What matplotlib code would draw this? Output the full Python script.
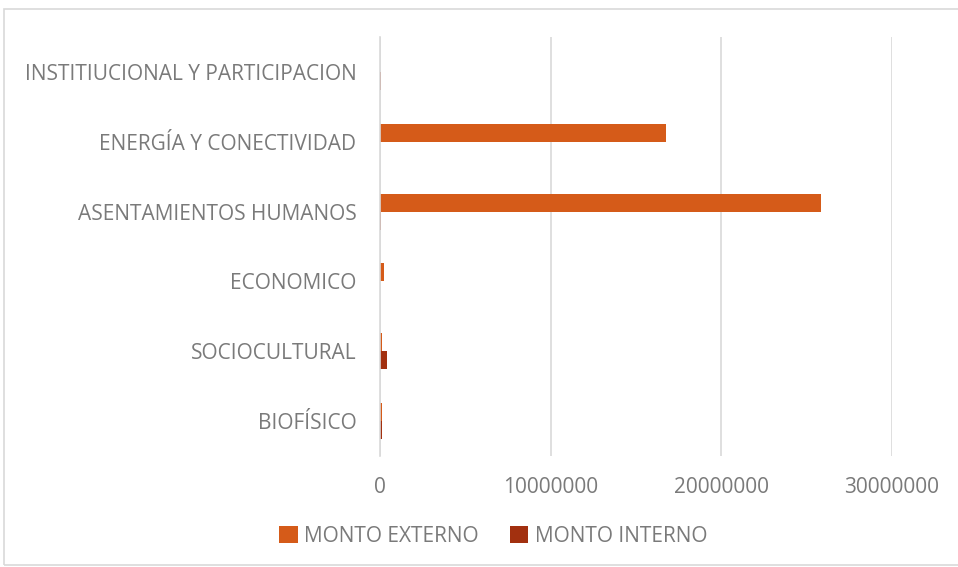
import matplotlib
matplotlib.use("Agg")
import matplotlib.pyplot as plt
from matplotlib.patches import Rectangle
import numpy as np

categories = ["BIOFÍSICO", "SOCIOCULTURAL", "ECONOMICO", "ASENTAMIENTOS HUMANOS",
              "ENERGÍA Y CONECTIVIDAD", "INSTITIUCIONAL Y PARTICIPACION"]
monto_externo = [130000, 130000, 250000, 25860000, 16750000, 0]
monto_interno = [110000, 430000, 20000, 50000, 0, 80000]
x_ticks = [0, 10000000, 20000000, 30000000]
series_names = ["MONTO EXTERNO", "MONTO INTERNO"]
colors = ["#D55B19", "#A2300F"]
text_color = "#7A7A7A"

plt.rcParams['font.family'] = ['Open Sans', 'DejaVu Sans']

W, H = 958, 567
fig = plt.figure(figsize=(W / 100, H / 100), dpi=100)
left, right, top, bottom = 380, 892, 37, 456
ax = fig.add_axes([left / W, 1 - bottom / H, (right - left) / W, (bottom - top) / H])

y = np.arange(len(categories))
h = 0.257
ax.barh(y + h / 2, monto_externo, height=h, color=colors[0], label=series_names[0], zorder=3)
ax.barh(y - h / 2, monto_interno, height=h, color=colors[1], label=series_names[1], zorder=3)

ax.set_xlim(0, 30000000)
ax.set_ylim(-0.5, len(categories) - 0.5)
ax.set_xticks(x_ticks)
ax.set_xticklabels([str(v) for v in x_ticks], color=text_color, fontsize=15)
ax.set_yticks(y)
ax.set_yticklabels(categories, color=text_color, fontsize=15)
ax.tick_params(axis='x', length=0, pad=15)
ax.tick_params(axis='y', length=0, pad=17)
ax.xaxis.grid(True, color="#D9D9D9", linewidth=1.2, zorder=0)
for s in ['top', 'right', 'bottom']:
    ax.spines[s].set_visible(False)
ax.spines['left'].set_color("#D9D9D9")
ax.spines['left'].set_linewidth(1.2)
ax.spines['left'].set_zorder(4)

leg = fig.legend(loc='center', bbox_to_anchor=(493 / W, 1 - 536 / H), ncol=2, frameon=False,
                 fontsize=15, handlelength=0.9, handleheight=0.9, handletextpad=0.3,
                 columnspacing=1.5)
for t in leg.get_texts():
    t.set_color(text_color)

fig.patches.append(Rectangle((4 / W, 0.003), 1.0, 1 - 9 / H - 0.003, transform=fig.transFigure,
                             fill=False, edgecolor="#D9D9D9", linewidth=1.2))

fig.savefig("out.png", dpi=100, facecolor="white")
